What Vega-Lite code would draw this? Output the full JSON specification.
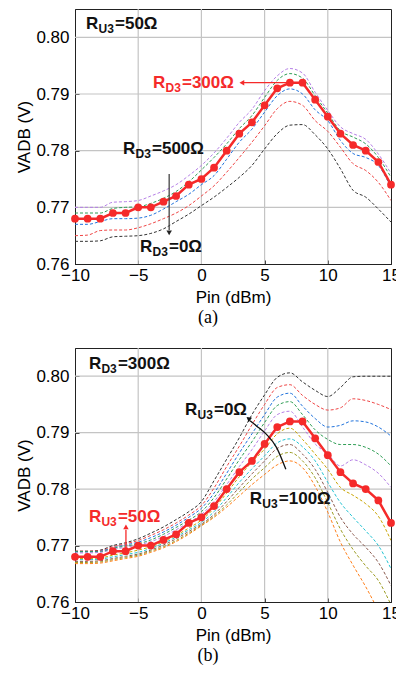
{
  "$schema": "https://vega.github.io/schema/vega-lite/v6.json",
  "padding": {"left": 15, "top": 7, "right": 0, "bottom": 0},
  "background": "white",
  "spacing": 18,
  "config": {
    "font": "Liberation Sans",
    "view": {"stroke": "#222", "strokeWidth": 1},
    "axis": {
      "domainColor": "#222", "tickColor": "#222", "tickSize": -4, "grid": false, "labelFlush": false,
      "labelFont": "Liberation Sans", "labelFontSize": 17, "labelColor": "#000",
      "titleFont": "Liberation Sans", "titleFontSize": 17, "titleFontWeight": "normal", "titleColor": "#000"
    }
  },
  "datasets": {
    "gx": [{"x": -5}, {"x": 0}, {"x": 5}, {"x": 10}],
    "gy": [{"v": 0.77}, {"v": 0.78}, {"v": 0.79}, {"v": 0.80}],
    "red": [
      {"x":-10,"v":0.768},{"x":-9,"v":0.768},{"x":-8,"v":0.768},{"x":-7,"v":0.769},{"x":-6,"v":0.769},{"x":-5,"v":0.770},{"x":-4,"v":0.770},{"x":-3,"v":0.771},{"x":-2,"v":0.772},{"x":-1,"v":0.774},{"x":0,"v":0.775},{"x":1,"v":0.777},{"x":2,"v":0.780},{"x":3,"v":0.783},{"x":4,"v":0.785},{"x":5,"v":0.788},{"x":6,"v":0.791},{"x":7,"v":0.792},{"x":8,"v":0.792},{"x":9,"v":0.789},{"x":10,"v":0.786},{"x":11,"v":0.783},{"x":12,"v":0.781},{"x":13,"v":0.780},{"x":14,"v":0.778},{"x":15,"v":0.774}
    ],
    "top": [
      {"s":"t500","x":-10,"v":0.7700},{"s":"t500","x":-9,"v":0.7700},{"s":"t500","x":-8,"v":0.7700},{"s":"t500","x":-7,"v":0.7709},{"s":"t500","x":-6,"v":0.7710},{"s":"t500","x":-5,"v":0.7712},{"s":"t500","x":-4,"v":0.7720},{"s":"t500","x":-3,"v":0.7729},{"s":"t500","x":-2,"v":0.7740},{"s":"t500","x":-1,"v":0.7756},{"s":"t500","x":0,"v":0.7774},{"s":"t500","x":1,"v":0.7796},{"s":"t500","x":2,"v":0.7822},{"s":"t500","x":3,"v":0.7850},{"s":"t500","x":4,"v":0.7873},{"s":"t500","x":5,"v":0.7906},{"s":"t500","x":6,"v":0.7932},{"s":"t500","x":7,"v":0.7945},{"s":"t500","x":8,"v":0.7937},{"s":"t500","x":9,"v":0.7903},{"s":"t500","x":10,"v":0.7871},{"s":"t500","x":11,"v":0.7842},{"s":"t500","x":12,"v":0.7830},{"s":"t500","x":13,"v":0.7820},{"s":"t500","x":14,"v":0.7794},{"s":"t500","x":15,"v":0.7760},
      {"s":"t400","x":-10,"v":0.7690},{"s":"t400","x":-9,"v":0.7690},{"s":"t400","x":-8,"v":0.7690},{"s":"t400","x":-7,"v":0.7698},{"s":"t400","x":-6,"v":0.7700},{"s":"t400","x":-5,"v":0.7701},{"s":"t400","x":-4,"v":0.7707},{"s":"t400","x":-3,"v":0.7716},{"s":"t400","x":-2,"v":0.7728},{"s":"t400","x":-1,"v":0.7745},{"s":"t400","x":0,"v":0.7766},{"s":"t400","x":1,"v":0.7788},{"s":"t400","x":2,"v":0.7812},{"s":"t400","x":3,"v":0.7839},{"s":"t400","x":4,"v":0.7862},{"s":"t400","x":5,"v":0.7894},{"s":"t400","x":6,"v":0.7924},{"s":"t400","x":7,"v":0.7936},{"s":"t400","x":8,"v":0.7928},{"s":"t400","x":9,"v":0.7897},{"s":"t400","x":10,"v":0.7866},{"s":"t400","x":11,"v":0.7835},{"s":"t400","x":12,"v":0.7824},{"s":"t400","x":13,"v":0.7812},{"s":"t400","x":14,"v":0.7788},{"s":"t400","x":15,"v":0.7753},
      {"s":"t200","x":-10,"v":0.7670},{"s":"t200","x":-9,"v":0.7670},{"s":"t200","x":-8,"v":0.7675},{"s":"t200","x":-7,"v":0.7680},{"s":"t200","x":-6,"v":0.7680},{"s":"t200","x":-5,"v":0.7681},{"s":"t200","x":-4,"v":0.7686},{"s":"t200","x":-3,"v":0.7697},{"s":"t200","x":-2,"v":0.7710},{"s":"t200","x":-1,"v":0.7723},{"s":"t200","x":0,"v":0.7740},{"s":"t200","x":1,"v":0.7756},{"s":"t200","x":2,"v":0.7785},{"s":"t200","x":3,"v":0.7815},{"s":"t200","x":4,"v":0.7838},{"s":"t200","x":5,"v":0.7868},{"s":"t200","x":6,"v":0.7897},{"s":"t200","x":7,"v":0.7909},{"s":"t200","x":8,"v":0.7900},{"s":"t200","x":9,"v":0.7872},{"s":"t200","x":10,"v":0.7853},{"s":"t200","x":11,"v":0.7818},{"s":"t200","x":12,"v":0.7795},{"s":"t200","x":13,"v":0.7788},{"s":"t200","x":14,"v":0.7774},{"s":"t200","x":15,"v":0.7735},
      {"s":"t100","x":-10,"v":0.7650},{"s":"t100","x":-9,"v":0.7651},{"s":"t100","x":-8,"v":0.7659},{"s":"t100","x":-7,"v":0.7660},{"s":"t100","x":-6,"v":0.7660},{"s":"t100","x":-5,"v":0.7664},{"s":"t100","x":-4,"v":0.7671},{"s":"t100","x":-3,"v":0.7680},{"s":"t100","x":-2,"v":0.7690},{"s":"t100","x":-1,"v":0.7703},{"s":"t100","x":0,"v":0.7720},{"s":"t100","x":1,"v":0.7738},{"s":"t100","x":2,"v":0.7762},{"s":"t100","x":3,"v":0.7788},{"s":"t100","x":4,"v":0.7815},{"s":"t100","x":5,"v":0.7844},{"s":"t100","x":6,"v":0.7874},{"s":"t100","x":7,"v":0.7887},{"s":"t100","x":8,"v":0.7880},{"s":"t100","x":9,"v":0.7853},{"s":"t100","x":10,"v":0.7834},{"s":"t100","x":11,"v":0.7806},{"s":"t100","x":12,"v":0.7777},{"s":"t100","x":13,"v":0.7765},{"s":"t100","x":14,"v":0.7744},{"s":"t100","x":15,"v":0.7712},
      {"s":"t0","x":-10,"v":0.7640},{"s":"t0","x":-9,"v":0.7640},{"s":"t0","x":-8,"v":0.7641},{"s":"t0","x":-7,"v":0.7648},{"s":"t0","x":-6,"v":0.7649},{"s":"t0","x":-5,"v":0.7650},{"s":"t0","x":-4,"v":0.7654},{"s":"t0","x":-3,"v":0.7662},{"s":"t0","x":-2,"v":0.7675},{"s":"t0","x":-1,"v":0.7688},{"s":"t0","x":0,"v":0.7703},{"s":"t0","x":1,"v":0.7718},{"s":"t0","x":2,"v":0.7735},{"s":"t0","x":3,"v":0.7753},{"s":"t0","x":4,"v":0.7774},{"s":"t0","x":5,"v":0.7803},{"s":"t0","x":6,"v":0.7830},{"s":"t0","x":7,"v":0.7845},{"s":"t0","x":8,"v":0.7846},{"s":"t0","x":9,"v":0.7828},{"s":"t0","x":10,"v":0.7803},{"s":"t0","x":11,"v":0.7768},{"s":"t0","x":12,"v":0.7730},{"s":"t0","x":13,"v":0.7718},{"s":"t0","x":14,"v":0.7697},{"s":"t0","x":15,"v":0.7674}
    ],
    "bot": [
      {"s":"b0","x":-10,"v":0.7690},{"s":"b0","x":-9,"v":0.7690},{"s":"b0","x":-8,"v":0.7692},{"s":"b0","x":-7,"v":0.7700},{"s":"b0","x":-6,"v":0.7705},{"s":"b0","x":-5,"v":0.7712},{"s":"b0","x":-4,"v":0.7722},{"s":"b0","x":-3,"v":0.7733},{"s":"b0","x":-2,"v":0.7746},{"s":"b0","x":-1,"v":0.7760},{"s":"b0","x":0,"v":0.7778},{"s":"b0","x":1,"v":0.7815},{"s":"b0","x":2,"v":0.7853},{"s":"b0","x":3,"v":0.7891},{"s":"b0","x":4,"v":0.7932},{"s":"b0","x":5,"v":0.7967},{"s":"b0","x":6,"v":0.7998},{"s":"b0","x":7,"v":0.8006},{"s":"b0","x":8,"v":0.7990},{"s":"b0","x":9,"v":0.7975},{"s":"b0","x":10,"v":0.7964},{"s":"b0","x":11,"v":0.7980},{"s":"b0","x":12,"v":0.7999},{"s":"b0","x":13,"v":0.8000},{"s":"b0","x":14,"v":0.8000},{"s":"b0","x":15,"v":0.8000},
      {"s":"b10","x":-10,"v":0.7690},{"s":"b10","x":-9,"v":0.7690},{"s":"b10","x":-8,"v":0.7691},{"s":"b10","x":-7,"v":0.7698},{"s":"b10","x":-6,"v":0.7703},{"s":"b10","x":-5,"v":0.7709},{"s":"b10","x":-4,"v":0.7718},{"s":"b10","x":-3,"v":0.7728},{"s":"b10","x":-2,"v":0.7740},{"s":"b10","x":-1,"v":0.7754},{"s":"b10","x":0,"v":0.7771},{"s":"b10","x":1,"v":0.7802},{"s":"b10","x":2,"v":0.7840},{"s":"b10","x":3,"v":0.7876},{"s":"b10","x":4,"v":0.7914},{"s":"b10","x":5,"v":0.7950},{"s":"b10","x":6,"v":0.7980},{"s":"b10","x":7,"v":0.7985},{"s":"b10","x":8,"v":0.7966},{"s":"b10","x":9,"v":0.7950},{"s":"b10","x":10,"v":0.7940},{"s":"b10","x":11,"v":0.7944},{"s":"b10","x":12,"v":0.7960},{"s":"b10","x":13,"v":0.7957},{"s":"b10","x":14,"v":0.7950},{"s":"b10","x":15,"v":0.7941},
      {"s":"b20","x":-10,"v":0.7689},{"s":"b20","x":-9,"v":0.7689},{"s":"b20","x":-8,"v":0.7690},{"s":"b20","x":-7,"v":0.7696},{"s":"b20","x":-6,"v":0.7701},{"s":"b20","x":-5,"v":0.7706},{"s":"b20","x":-4,"v":0.7714},{"s":"b20","x":-3,"v":0.7724},{"s":"b20","x":-2,"v":0.7736},{"s":"b20","x":-1,"v":0.7750},{"s":"b20","x":0,"v":0.7766},{"s":"b20","x":1,"v":0.7793},{"s":"b20","x":2,"v":0.7828},{"s":"b20","x":3,"v":0.7864},{"s":"b20","x":4,"v":0.7898},{"s":"b20","x":5,"v":0.7932},{"s":"b20","x":6,"v":0.7963},{"s":"b20","x":7,"v":0.7970},{"s":"b20","x":8,"v":0.7947},{"s":"b20","x":9,"v":0.7925},{"s":"b20","x":10,"v":0.7910},{"s":"b20","x":11,"v":0.7913},{"s":"b20","x":12,"v":0.7921},{"s":"b20","x":13,"v":0.7919},{"s":"b20","x":14,"v":0.7910},{"s":"b20","x":15,"v":0.7894},
      {"s":"b30","x":-10,"v":0.7689},{"s":"b30","x":-9,"v":0.7689},{"s":"b30","x":-8,"v":0.7689},{"s":"b30","x":-7,"v":0.7695},{"s":"b30","x":-6,"v":0.7699},{"s":"b30","x":-5,"v":0.7703},{"s":"b30","x":-4,"v":0.7710},{"s":"b30","x":-3,"v":0.7720},{"s":"b30","x":-2,"v":0.7732},{"s":"b30","x":-1,"v":0.7745},{"s":"b30","x":0,"v":0.7760},{"s":"b30","x":1,"v":0.7785},{"s":"b30","x":2,"v":0.7818},{"s":"b30","x":3,"v":0.7852},{"s":"b30","x":4,"v":0.7884},{"s":"b30","x":5,"v":0.7918},{"s":"b30","x":6,"v":0.7948},{"s":"b30","x":7,"v":0.7955},{"s":"b30","x":8,"v":0.7932},{"s":"b30","x":9,"v":0.7905},{"s":"b30","x":10,"v":0.7888},{"s":"b30","x":11,"v":0.7879},{"s":"b30","x":12,"v":0.7879},{"s":"b30","x":13,"v":0.7874},{"s":"b30","x":14,"v":0.7862},{"s":"b30","x":15,"v":0.7841},
      {"s":"b40","x":-10,"v":0.7687},{"s":"b40","x":-9,"v":0.7687},{"s":"b40","x":-8,"v":0.7688},{"s":"b40","x":-7,"v":0.7693},{"s":"b40","x":-6,"v":0.7697},{"s":"b40","x":-5,"v":0.7701},{"s":"b40","x":-4,"v":0.7707},{"s":"b40","x":-3,"v":0.7716},{"s":"b40","x":-2,"v":0.7728},{"s":"b40","x":-1,"v":0.7741},{"s":"b40","x":0,"v":0.7755},{"s":"b40","x":1,"v":0.7778},{"s":"b40","x":2,"v":0.7808},{"s":"b40","x":3,"v":0.7840},{"s":"b40","x":4,"v":0.7870},{"s":"b40","x":5,"v":0.7903},{"s":"b40","x":6,"v":0.7932},{"s":"b40","x":7,"v":0.7938},{"s":"b40","x":8,"v":0.7910},{"s":"b40","x":9,"v":0.7880},{"s":"b40","x":10,"v":0.7862},{"s":"b40","x":11,"v":0.7841},{"s":"b40","x":12,"v":0.7852},{"s":"b40","x":13,"v":0.7843},{"s":"b40","x":14,"v":0.7828},{"s":"b40","x":15,"v":0.7803},
      {"s":"b60","x":-10,"v":0.7677},{"s":"b60","x":-9,"v":0.7677},{"s":"b60","x":-8,"v":0.7678},{"s":"b60","x":-7,"v":0.7683},{"s":"b60","x":-6,"v":0.7687},{"s":"b60","x":-5,"v":0.7692},{"s":"b60","x":-4,"v":0.7698},{"s":"b60","x":-3,"v":0.7707},{"s":"b60","x":-2,"v":0.7718},{"s":"b60","x":-1,"v":0.7731},{"s":"b60","x":0,"v":0.7745},{"s":"b60","x":1,"v":0.7766},{"s":"b60","x":2,"v":0.7793},{"s":"b60","x":3,"v":0.7822},{"s":"b60","x":4,"v":0.7848},{"s":"b60","x":5,"v":0.7871},{"s":"b60","x":6,"v":0.7898},{"s":"b60","x":7,"v":0.7908},{"s":"b60","x":8,"v":0.7888},{"s":"b60","x":9,"v":0.7862},{"s":"b60","x":10,"v":0.7835},{"s":"b60","x":11,"v":0.7803},{"s":"b60","x":12,"v":0.7789},{"s":"b60","x":13,"v":0.7774},{"s":"b60","x":14,"v":0.7752},{"s":"b60","x":15,"v":0.7709},
      {"s":"b70","x":-10,"v":0.7675},{"s":"b70","x":-9,"v":0.7675},{"s":"b70","x":-8,"v":0.7676},{"s":"b70","x":-7,"v":0.7680},{"s":"b70","x":-6,"v":0.7684},{"s":"b70","x":-5,"v":0.7688},{"s":"b70","x":-4,"v":0.7695},{"s":"b70","x":-3,"v":0.7704},{"s":"b70","x":-2,"v":0.7715},{"s":"b70","x":-1,"v":0.7728},{"s":"b70","x":0,"v":0.7741},{"s":"b70","x":1,"v":0.7760},{"s":"b70","x":2,"v":0.7785},{"s":"b70","x":3,"v":0.7812},{"s":"b70","x":4,"v":0.7836},{"s":"b70","x":5,"v":0.7859},{"s":"b70","x":6,"v":0.7882},{"s":"b70","x":7,"v":0.7889},{"s":"b70","x":8,"v":0.7875},{"s":"b70","x":9,"v":0.7850},{"s":"b70","x":10,"v":0.7812},{"s":"b70","x":11,"v":0.7776},{"s":"b70","x":12,"v":0.7750},{"s":"b70","x":13,"v":0.7726},{"s":"b70","x":14,"v":0.7700},{"s":"b70","x":15,"v":0.7659},
      {"s":"b80","x":-10,"v":0.7672},{"s":"b80","x":-9,"v":0.7672},{"s":"b80","x":-8,"v":0.7673},{"s":"b80","x":-7,"v":0.7677},{"s":"b80","x":-6,"v":0.7681},{"s":"b80","x":-5,"v":0.7685},{"s":"b80","x":-4,"v":0.7692},{"s":"b80","x":-3,"v":0.7701},{"s":"b80","x":-2,"v":0.7712},{"s":"b80","x":-1,"v":0.7725},{"s":"b80","x":0,"v":0.7738},{"s":"b80","x":1,"v":0.7755},{"s":"b80","x":2,"v":0.7778},{"s":"b80","x":3,"v":0.7803},{"s":"b80","x":4,"v":0.7827},{"s":"b80","x":5,"v":0.7850},{"s":"b80","x":6,"v":0.7872},{"s":"b80","x":7,"v":0.7879},{"s":"b80","x":8,"v":0.7862},{"s":"b80","x":9,"v":0.7835},{"s":"b80","x":10,"v":0.7794},{"s":"b80","x":11,"v":0.7750},{"s":"b80","x":12,"v":0.7720},{"s":"b80","x":13,"v":0.7697},{"s":"b80","x":14,"v":0.7670},{"s":"b80","x":15,"v":0.7629},
      {"s":"b90","x":-10,"v":0.7670},{"s":"b90","x":-9,"v":0.7670},{"s":"b90","x":-8,"v":0.7671},{"s":"b90","x":-7,"v":0.7675},{"s":"b90","x":-6,"v":0.7679},{"s":"b90","x":-5,"v":0.7683},{"s":"b90","x":-4,"v":0.7690},{"s":"b90","x":-3,"v":0.7698},{"s":"b90","x":-2,"v":0.7709},{"s":"b90","x":-1,"v":0.7722},{"s":"b90","x":0,"v":0.7736},{"s":"b90","x":1,"v":0.7752},{"s":"b90","x":2,"v":0.7772},{"s":"b90","x":3,"v":0.7795},{"s":"b90","x":4,"v":0.7818},{"s":"b90","x":5,"v":0.7838},{"s":"b90","x":6,"v":0.7858},{"s":"b90","x":7,"v":0.7865},{"s":"b90","x":8,"v":0.7850},{"s":"b90","x":9,"v":0.7820},{"s":"b90","x":10,"v":0.7776},{"s":"b90","x":11,"v":0.7729},{"s":"b90","x":12,"v":0.7693},{"s":"b90","x":13,"v":0.7664},{"s":"b90","x":14,"v":0.7638},{"s":"b90","x":15,"v":0.7595},
      {"s":"b100","x":-10,"v":0.7668},{"s":"b100","x":-9,"v":0.7668},{"s":"b100","x":-8,"v":0.7669},{"s":"b100","x":-7,"v":0.7673},{"s":"b100","x":-6,"v":0.7677},{"s":"b100","x":-5,"v":0.7681},{"s":"b100","x":-4,"v":0.7688},{"s":"b100","x":-3,"v":0.7696},{"s":"b100","x":-2,"v":0.7707},{"s":"b100","x":-1,"v":0.7720},{"s":"b100","x":0,"v":0.7735},{"s":"b100","x":1,"v":0.7750},{"s":"b100","x":2,"v":0.7768},{"s":"b100","x":3,"v":0.7788},{"s":"b100","x":4,"v":0.7808},{"s":"b100","x":5,"v":0.7826},{"s":"b100","x":6,"v":0.7843},{"s":"b100","x":7,"v":0.7850},{"s":"b100","x":8,"v":0.7838},{"s":"b100","x":9,"v":0.7805},{"s":"b100","x":10,"v":0.7759},{"s":"b100","x":11,"v":0.7706},{"s":"b100","x":12,"v":0.7665},{"s":"b100","x":13,"v":0.7627},{"s":"b100","x":14,"v":0.7585},{"s":"b100","x":15,"v":0.7545}
    ],
    "txtTop": [
      {"x":-9.13,"v":0.8015,"r":"R","sub":"U3","rest":"=50Ω","c":"k"},
      {"x":-3.83,"v":0.7910,"r":"R","sub":"D3","rest":"=300Ω","c":"r"},
      {"x":-6.2,"v":0.7794,"r":"R","sub":"D3","rest":"=500Ω","c":"k"},
      {"x":-4.86,"v":0.7621,"r":"R","sub":"D3","rest":"=0Ω","c":"k"}
    ],
    "txtBot": [
      {"x":-8.9,"v":0.8012,"r":"R","sub":"D3","rest":"=300Ω","c":"k"},
      {"x":-1.3,"v":0.7932,"r":"R","sub":"U3","rest":"=0Ω","c":"k"},
      {"x":3.83,"v":0.7774,"r":"R","sub":"U3","rest":"=100Ω","c":"k"},
      {"x":-8.9,"v":0.7742,"r":"R","sub":"U3","rest":"=50Ω","c":"r"}
    ]
  },
  "vconcat": [
    {
      "width": 316, "height": 255,
      "title": {"text": "(a)", "orient": "bottom", "anchor": "middle", "dx": -25, "font": "Liberation Serif", "fontSize": 18, "fontWeight": "normal", "color": "#000", "offset": 4},
      "resolve": {"scale": {"color": "independent"}},
      "layer": [
        {
          "data": {"name": "gx"},
          "mark": {"type": "rule", "color": "#c4c4c4", "strokeWidth": 1.2},
          "encoding": {"x": {"field": "x", "type": "quantitative", "scale": {"domain": [-10, 15], "nice": false, "zero": false},
                  "axis": {"title": "Pin (dBm)", "values": [-10, -7.5, -5, -2.5, 0, 2.5, 5, 7.5, 10, 12.5, 15], "labelExpr": "datum.value % 5 === 0 ? format(datum.value, 'd') : ''", "labelPadding": 7, "titlePadding": 6}}}
        },
        {
          "data": {"name": "gy"},
          "mark": {"type": "rule", "color": "#c4c4c4", "strokeWidth": 1.2},
          "encoding": {"y": {"field": "v", "type": "quantitative", "scale": {"domain": [0.76, 0.805], "nice": false, "zero": false},
                  "axis": {"title": "VADB (V)", "values": [0.76, 0.765, 0.77, 0.775, 0.78, 0.785, 0.79, 0.795, 0.8], "labelExpr": "abs(round(datum.value*100) - datum.value*100) < 0.01 ? format(datum.value, '.2f') : ''", "labelPadding": 10, "titlePadding": 2}}}
        },
        {
          "data": {"name": "top"},
          "mark": {"type": "line", "strokeDash": [3, 2], "strokeWidth": 1, "interpolate": "monotone", "clip": true},
          "encoding": {
            "x": {"field": "x", "type": "quantitative"},
            "y": {"field": "v", "type": "quantitative"},
            "color": {"field": "s", "type": "nominal", "legend": null,
                      "scale": {"domain": ["t500", "t400", "t200", "t100", "t0"], "range": ["#b57fe6", "#2f9e55", "#2274dd", "#ef4545", "#333333"]}}
          }
        },
        {
          "data": {"name": "red"},
          "mark": {"type": "line", "color": "#f52a2a", "strokeWidth": 2.5},
          "encoding": {"x": {"field": "x", "type": "quantitative"}, "y": {"field": "v", "type": "quantitative"}}
        },
        {
          "data": {"name": "red"},
          "mark": {"type": "point", "filled": true, "color": "#f52a2a", "opacity": 1, "size": 60},
          "encoding": {"x": {"field": "x", "type": "quantitative"}, "y": {"field": "v", "type": "quantitative"}}
        },
        {
          "data": {"values": [{"x": 3.3, "x2": 6.9, "v": 0.792}]},
          "mark": {"type": "rule", "color": "#f52a2a", "strokeWidth": 1.3},
          "encoding": {"x": {"field": "x", "type": "quantitative"}, "x2": {"field": "x2"}, "y": {"field": "v", "type": "quantitative"}}
        },
        {
          "data": {"values": [{"x": 3.2, "v": 0.792}]},
          "mark": {"type": "point", "shape": "triangle-left", "filled": true, "color": "#f52a2a", "opacity": 1, "size": 30},
          "encoding": {"x": {"field": "x", "type": "quantitative"}, "y": {"field": "v", "type": "quantitative"}}
        },
        {
          "data": {"values": [{"x": -2.55, "v": 0.7759, "v2": 0.7660}]},
          "mark": {"type": "rule", "color": "#444", "strokeWidth": 1.3},
          "encoding": {"x": {"field": "x", "type": "quantitative"}, "y": {"field": "v", "type": "quantitative"}, "y2": {"field": "v2"}}
        },
        {
          "data": {"values": [{"x": -2.55, "v": 0.7655}]},
          "mark": {"type": "point", "shape": "triangle-down", "filled": true, "color": "#222", "opacity": 1, "size": 30},
          "encoding": {"x": {"field": "x", "type": "quantitative"}, "y": {"field": "v", "type": "quantitative"}}
        },
        {
          "data": {"name": "txtTop"},
          "mark": {"type": "text", "align": "left", "baseline": "alphabetic", "fontSize": 17, "fontWeight": "bold"},
          "encoding": {"x": {"field": "x", "type": "quantitative"}, "y": {"field": "v", "type": "quantitative"}, "text": {"field": "r"},
                       "color": {"field": "c", "type": "nominal", "legend": null, "scale": {"domain": ["k", "r"], "range": ["#111111", "#f52a2a"]}}}
        },
        {
          "data": {"name": "txtTop"},
          "mark": {"type": "text", "align": "left", "baseline": "alphabetic", "fontSize": 12, "fontWeight": "bold", "dx": 12.5, "dy": 4},
          "encoding": {"x": {"field": "x", "type": "quantitative"}, "y": {"field": "v", "type": "quantitative"}, "text": {"field": "sub"},
                       "color": {"field": "c", "type": "nominal", "legend": null, "scale": {"domain": ["k", "r"], "range": ["#111111", "#f52a2a"]}}}
        },
        {
          "data": {"name": "txtTop"},
          "mark": {"type": "text", "align": "left", "baseline": "alphabetic", "fontSize": 17, "fontWeight": "bold", "dx": 29},
          "encoding": {"x": {"field": "x", "type": "quantitative"}, "y": {"field": "v", "type": "quantitative"}, "text": {"field": "rest"},
                       "color": {"field": "c", "type": "nominal", "legend": null, "scale": {"domain": ["k", "r"], "range": ["#111111", "#f52a2a"]}}}
        }
      ]
    },
    {
      "width": 316, "height": 254,
      "title": {"text": "(b)", "orient": "bottom", "anchor": "middle", "dx": -25, "font": "Liberation Serif", "fontSize": 18, "fontWeight": "normal", "color": "#000", "offset": 4},
      "resolve": {"scale": {"color": "independent"}},
      "layer": [
        {
          "data": {"name": "gx"},
          "mark": {"type": "rule", "color": "#c4c4c4", "strokeWidth": 1.2},
          "encoding": {"x": {"field": "x", "type": "quantitative", "scale": {"domain": [-10, 15], "nice": false, "zero": false},
                  "axis": {"title": "Pin (dBm)", "values": [-10, -7.5, -5, -2.5, 0, 2.5, 5, 7.5, 10, 12.5, 15], "labelExpr": "datum.value % 5 === 0 ? format(datum.value, 'd') : ''", "labelPadding": 7, "titlePadding": 6}}}
        },
        {
          "data": {"name": "gy"},
          "mark": {"type": "rule", "color": "#c4c4c4", "strokeWidth": 1.2},
          "encoding": {"y": {"field": "v", "type": "quantitative", "scale": {"domain": [0.76, 0.805], "nice": false, "zero": false},
                  "axis": {"title": "VADB (V)", "values": [0.76, 0.765, 0.77, 0.775, 0.78, 0.785, 0.79, 0.795, 0.8], "labelExpr": "abs(round(datum.value*100) - datum.value*100) < 0.01 ? format(datum.value, '.2f') : ''", "labelPadding": 10, "titlePadding": 2}}}
        },
        {
          "data": {"name": "bot"},
          "mark": {"type": "line", "strokeDash": [3, 2], "strokeWidth": 1, "interpolate": "monotone", "clip": true},
          "encoding": {
            "x": {"field": "x", "type": "quantitative"},
            "y": {"field": "v", "type": "quantitative"},
            "color": {"field": "s", "type": "nominal", "legend": null,
                      "scale": {"domain": ["b0", "b10", "b20", "b30", "b40", "b60", "b70", "b80", "b90", "b100"], "range": ["#333333", "#ef4545", "#2274dd", "#2f9e55", "#b57fe6", "#c9a400", "#22c3d3", "#8b5a4e", "#9c9c22", "#ff7f1a"]}}
          }
        },
        {
          "data": {"name": "red"},
          "mark": {"type": "line", "color": "#f52a2a", "strokeWidth": 2.5},
          "encoding": {"x": {"field": "x", "type": "quantitative"}, "y": {"field": "v", "type": "quantitative"}}
        },
        {
          "data": {"name": "red"},
          "mark": {"type": "point", "filled": true, "color": "#f52a2a", "opacity": 1, "size": 60},
          "encoding": {"x": {"field": "x", "type": "quantitative"}, "y": {"field": "v", "type": "quantitative"}}
        },
        {
          "data": {"values": [{"x": 6.68, "v": 0.7835}, {"x": 5.94, "v": 0.7874}, {"x": 5.15, "v": 0.7897}, {"x": 4.36, "v": 0.7912}, {"x": 3.85, "v": 0.7921}]},
          "mark": {"type": "line", "color": "#111", "strokeWidth": 1.3, "interpolate": "monotone"},
          "encoding": {"x": {"field": "x", "type": "quantitative"}, "y": {"field": "v", "type": "quantitative"}}
        },
        {
          "data": {"values": [{"x": 3.72, "v": 0.7925}]},
          "mark": {"type": "point", "shape": "triangle-up", "angle": -52, "filled": true, "color": "#111", "opacity": 1, "size": 30},
          "encoding": {"x": {"field": "x", "type": "quantitative"}, "y": {"field": "v", "type": "quantitative"}}
        },
        {
          "data": {"values": [{"x": -5.97, "v": 0.7688, "v2": 0.7728}]},
          "mark": {"type": "rule", "color": "#f52a2a", "strokeWidth": 1.3},
          "encoding": {"x": {"field": "x", "type": "quantitative"}, "y": {"field": "v", "type": "quantitative"}, "y2": {"field": "v2"}}
        },
        {
          "data": {"values": [{"x": -5.97, "v": 0.7733}]},
          "mark": {"type": "point", "shape": "triangle-up", "filled": true, "color": "#f52a2a", "opacity": 1, "size": 30},
          "encoding": {"x": {"field": "x", "type": "quantitative"}, "y": {"field": "v", "type": "quantitative"}}
        },
        {
          "data": {"name": "txtBot"},
          "mark": {"type": "text", "align": "left", "baseline": "alphabetic", "fontSize": 17, "fontWeight": "bold"},
          "encoding": {"x": {"field": "x", "type": "quantitative"}, "y": {"field": "v", "type": "quantitative"}, "text": {"field": "r"},
                       "color": {"field": "c", "type": "nominal", "legend": null, "scale": {"domain": ["k", "r"], "range": ["#111111", "#f52a2a"]}}}
        },
        {
          "data": {"name": "txtBot"},
          "mark": {"type": "text", "align": "left", "baseline": "alphabetic", "fontSize": 12, "fontWeight": "bold", "dx": 12.5, "dy": 4},
          "encoding": {"x": {"field": "x", "type": "quantitative"}, "y": {"field": "v", "type": "quantitative"}, "text": {"field": "sub"},
                       "color": {"field": "c", "type": "nominal", "legend": null, "scale": {"domain": ["k", "r"], "range": ["#111111", "#f52a2a"]}}}
        },
        {
          "data": {"name": "txtBot"},
          "mark": {"type": "text", "align": "left", "baseline": "alphabetic", "fontSize": 17, "fontWeight": "bold", "dx": 29},
          "encoding": {"x": {"field": "x", "type": "quantitative"}, "y": {"field": "v", "type": "quantitative"}, "text": {"field": "rest"},
                       "color": {"field": "c", "type": "nominal", "legend": null, "scale": {"domain": ["k", "r"], "range": ["#111111", "#f52a2a"]}}}
        }
      ]
    }
  ]
}
